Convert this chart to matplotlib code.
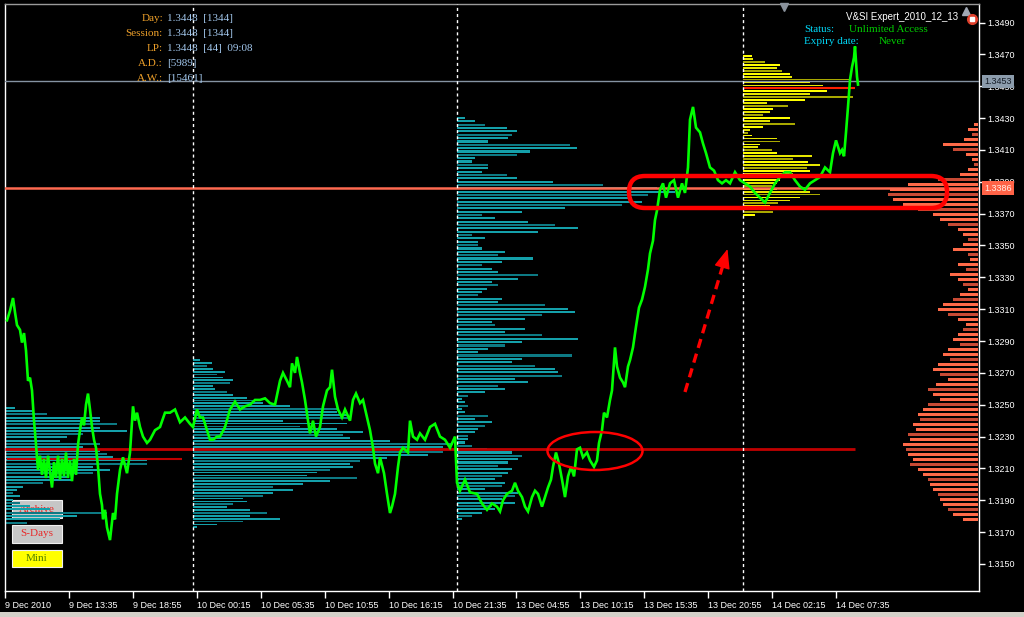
import numpy as np
import matplotlib
matplotlib.use("Agg")
import matplotlib.pyplot as plt
from matplotlib.patches import Ellipse, FancyBboxPatch, Rectangle
from matplotlib.transforms import blended_transform_factory

plt.rcParams['font.family'] = ['Liberation Sans', 'DejaVu Sans']

# ---------------- data (bar index, close price) ----------------
dec9_bars = [7, 10, 13, 15, 17, 20, 22, 24, 26, 28, 30, 32, 34, 36, 38, 40, 42, 44, 46, 48,
             50, 52, 54, 56, 58, 60, 62, 64, 66, 68, 70, 72, 74, 76, 78, 80, 82, 84, 86, 88,
             90, 92, 94, 96, 98, 100, 102, 103, 105, 107, 110, 113, 115, 117, 120, 123, 125, 127, 130, 133,
             135, 137, 140, 143, 147, 150, 155, 160, 165, 170, 175, 180, 185, 190, 193]
dec9_close = [1.3303, 1.3309, 1.3317, 1.3308, 1.3300, 1.3297, 1.3289, 1.3295, 1.3284, 1.3265,
              1.3267, 1.3259, 1.3240, 1.3225, 1.3209, 1.3218, 1.3206, 1.3216, 1.3204, 1.3218,
              1.3208, 1.3198, 1.3214, 1.3204, 1.3218, 1.3203, 1.3216, 1.3205, 1.3220, 1.3204,
              1.3215, 1.3202, 1.3216, 1.3206, 1.3225, 1.3234, 1.3242, 1.3237, 1.3250, 1.3257,
              1.3247, 1.3236, 1.3228, 1.3223, 1.3211, 1.3194, 1.3187, 1.3178, 1.3184, 1.3173,
              1.3165, 1.3182, 1.3178, 1.3194, 1.3209, 1.3217, 1.3212, 1.3207, 1.3220, 1.3249,
              1.3240, 1.3245, 1.3236, 1.3230, 1.3226, 1.3228, 1.3234, 1.3236, 1.3245, 1.3245,
              1.3247, 1.3239, 1.3242, 1.3238, 1.3236]

dec10_bars = [197, 200, 203, 207, 210, 213, 217, 220, 225, 230, 235, 240, 245, 250, 255, 260, 265, 270, 275, 278,
              280, 283, 287, 290, 292, 295, 297, 300, 302, 305, 308, 310, 313, 316, 320, 323, 327, 330, 332, 335,
              338, 342, 345, 350, 353, 356, 360, 363, 367, 370, 373, 375, 378, 380, 384, 387, 390, 392, 395, 398,
              400, 403, 408, 410, 413, 417, 420, 425, 430, 435, 440, 445, 450, 455]
dec10_close = [1.3247, 1.3242, 1.3242, 1.3234, 1.3228, 1.3228, 1.3230, 1.3230, 1.3236, 1.3247,
               1.3252, 1.3247, 1.3249, 1.3250, 1.3253, 1.3253, 1.3254, 1.3251, 1.3250, 1.3259,
               1.3265, 1.3270, 1.3265, 1.3261, 1.3276, 1.3270, 1.3280, 1.3270, 1.3264, 1.3253,
               1.3240, 1.3232, 1.3240, 1.3230, 1.3236, 1.3249, 1.3259, 1.3261, 1.3272, 1.3255,
               1.3247, 1.3242, 1.3247, 1.3240, 1.3253, 1.3257, 1.3251, 1.3253, 1.3242, 1.3234,
               1.3223, 1.3213, 1.3207, 1.3217, 1.3207, 1.3194, 1.3182, 1.3186, 1.3194, 1.3211,
               1.3220, 1.3223, 1.3220, 1.3240, 1.3230, 1.3228, 1.3232, 1.3228, 1.3236, 1.3238,
               1.3230, 1.3228, 1.3223, 1.3230]

dec13_bars = [457, 460, 465, 470, 477, 482, 487, 492, 497, 500, 503, 507, 512, 515, 518, 522, 525, 528, 532, 535,
              538, 542, 545, 548, 551, 553, 556, 559, 562, 565, 568, 571, 574, 577, 580, 583, 587, 590, 594, 597,
              599, 602, 604, 607, 610, 612, 615, 617, 620, 623, 625, 628, 630, 633, 636, 639, 642, 645, 648, 650,
              653, 655, 657, 660, 663, 666, 670, 674, 678, 682, 685, 688, 690, 693, 696, 700, 703, 706, 710, 714,
              718, 722, 726, 730, 735, 740]
dec13_close = [1.3201, 1.3196, 1.3203, 1.3195, 1.3194, 1.3188, 1.3184, 1.3188, 1.3186, 1.3183,
               1.3190, 1.3194, 1.3196, 1.3201, 1.3196, 1.3192, 1.3186, 1.3183, 1.3192, 1.3196,
               1.3194, 1.3186, 1.3192, 1.3198, 1.3203, 1.3211, 1.3220, 1.3213, 1.3203, 1.3192,
               1.3205, 1.3211, 1.3205, 1.3222, 1.3223, 1.3217, 1.3220, 1.3215, 1.3211, 1.3215,
               1.3226, 1.3234, 1.3245, 1.3242, 1.3253, 1.3259, 1.3286, 1.3274, 1.3267, 1.3264,
               1.3261, 1.3274, 1.3278, 1.3286, 1.3299, 1.3311, 1.3316, 1.3324, 1.3335, 1.3345,
               1.3353, 1.3366, 1.3372, 1.3385, 1.3389, 1.3380, 1.3389, 1.3391, 1.3380, 1.3389,
               1.3383, 1.3399, 1.3429, 1.3437, 1.3424, 1.3421, 1.3414, 1.3408, 1.3399, 1.3397,
               1.3391, 1.3389, 1.3391, 1.3389, 1.3396, 1.3391]

dec14_bars = [745, 750, 755, 760, 765, 770, 775, 780, 785, 790, 795, 800, 805, 810, 815, 820, 825, 830, 833, 836,
              838, 840, 842, 844, 846, 848, 850, 852, 854, 855, 857, 858]
dec14_close = [1.3389, 1.3387, 1.3383, 1.3380, 1.3377, 1.3383, 1.3389, 1.3393, 1.3396, 1.3396,
               1.3391, 1.3387, 1.3385, 1.3389, 1.3391, 1.3393, 1.3399, 1.3396, 1.3408, 1.3416,
               1.3412, 1.3408, 1.3410, 1.3406, 1.3421, 1.3437, 1.3454, 1.3462, 1.3468, 1.3475,
               1.3456, 1.3451]

# ---------------- volume profiles (volume per price row, top -> bottom) ----------------
prof9_vol = [10, 28, 42, 95, 95, 112, 95, 122, 78, 62, 55, 95, 78, 95, 102, 108, 142, 142, 88, 105,
             88, 62, 68, 38, 18, 12, 8, 15, 8, 15, 25, 45, 102, 72, 55, 22]
prof9_range = (1.3248, 1.3176)

prof10_vol = [7, 19, 14, 20, 32, 24, 30, 40, 37, 20, 22, 34, 40, 54, 64, 70, 97, 144, 144, 154,
              157, 90, 154, 107, 144, 170, 150, 157, 197, 260, 250, 244, 250, 235, 194, 167, 157, 160, 137, 124,
              114, 164, 137, 110, 80, 100, 80, 70, 50, 54, 40, 34, 57, 74, 57, 87, 50, 24, 4]
prof10_range = (1.3278, 1.3173)

prof13_vol = [8, 18, 28, 50, 60, 55, 51, 31, 113, 120, 73, 60, 18, 15, 31, 31, 25, 50, 60, 96,
              146, 200, 218, 191, 175, 185, 165, 108, 65, 25, 38, 71, 98, 121, 81, 15, 28, 21, 21, 25,
              48, 41, 76, 45, 25, 35, 41, 81, 61, 35, 41, 30, 25, 21, 45, 41, 88, 111, 118, 85,
              68, 35, 38, 68, 48, 85, 121, 65, 48, 31, 21, 115, 65, 55, 78, 98, 101, 105, 58, 71,
              41, 48, 28, 11, 5, 8, 11, 5, 8, 31, 18, 35, 28, 21, 18, 11, 11, 8, 15, 30,
              55, 65, 61, 51, 41, 55, 51, 45, 38, 48, 45, 28, 61, 58, 45, 58, 35, 38, 25, 15, 5]
prof13_range = (1.3430, 1.3178)

prof14_vol = [9, 10, 22, 37, 34, 39, 47, 49, 107, 67, 80, 107, 84, 67, 110, 62, 24, 45, 30, 27,
              20, 47, 27, 52, 20, 7, 5, 9, 34, 37, 17, 15, 29, 34, 69, 50, 65, 77, 64, 67,
              50, 44, 37, 34, 29, 34, 67, 77, 57, 47, 35, 27, 24, 30, 12]
prof14_range = (1.3469, 1.3369)

profall_vol = [4, 10, 6, 14, 35, 25, 12, 6, 4, 10, 18, 40, 70, 88, 90, 85, 75, 60, 45, 38,
               30, 20, 15, 10, 15, 25, 10, 8, 20, 12, 28, 20, 15, 10, 18, 25, 35, 40, 30, 20,
               12, 15, 20, 25, 18, 30, 35, 28, 40, 45, 38, 30, 42, 50, 45, 38, 50, 55, 60, 58,
               65, 62, 70, 68, 75, 72, 70, 65, 68, 60, 55, 50, 48, 45, 40, 38, 35, 30, 25, 15]
profall_range = (1.3426, 1.3178)

# ---------------- levels / axis labels ----------------
day_separators = [193, 457, 743]
last_price = 1.3453
poc_total = 1.3386
poc_dec10 = 1.3222
poc_dec9 = 1.3216
poc_dec14 = 1.3449
ytick_vals = [1.3150, 1.3170, 1.3190, 1.3210, 1.3230, 1.3250, 1.3270, 1.3290, 1.3310, 1.3330,
              1.3350, 1.3370, 1.3390, 1.3410, 1.3430, 1.3450, 1.3470, 1.3490]
xtick_bars = [5, 69, 133, 197, 261, 325, 389, 453, 516, 580, 644, 708, 772, 836]
xtick_labels = ['9 Dec 2010', '9 Dec 13:35', '9 Dec 18:55', '10 Dec 00:15', '10 Dec 05:35',
                '10 Dec 10:55', '10 Dec 16:15', '10 Dec 21:35', '13 Dec 04:55', '13 Dec 10:15',
                '13 Dec 15:35', '13 Dec 20:55', '14 Dec 02:15', '14 Dec 07:35']

# ---------------- figure ----------------
W, H = 1024, 617
fig = plt.figure(figsize=(W / 100, H / 100), dpi=100, facecolor='black')
L, R, T, B = 5, 979, 4, 591
ax = fig.add_axes([L / W, (H - B) / H, (R - L) / W, (B - T) / H])
ax.set_facecolor('black')

PX_PER_PRICE = 15926.0


def price_at(py):
    return 1.3490 - (py - 22.5) / PX_PER_PRICE


def fx(px):
    return px / W


def fy(py):
    return 1 - py / H


ax.set_xlim(L, R)
ax.set_ylim(price_at(B), price_at(T))


def draw_profile(vols, prange, anchor, colors, direction=1, zorder=2):
    levels = np.linspace(prange[0], prange[1], len(vols))
    step = abs(prange[0] - prange[1]) / (len(vols) - 1)
    cols = [colors[i % len(colors)] for i in range(len(vols))]
    ax.barh(levels, np.asarray(vols) * direction, left=anchor, height=step * 0.62,
            color=cols, linewidth=0, zorder=zorder)


teal = ['#14a0aa', '#14a0aa', '#0d7a84']
draw_profile(prof9_vol, prof9_range, 5, teal)
draw_profile(prof10_vol, prof10_range, 193, teal)
draw_profile(prof13_vol, prof13_range, 457, teal)
draw_profile(prof14_vol, prof14_range, 743, ['#ffff00', '#e6e600', '#a8a800'])
draw_profile(profall_vol, profall_range, 978, ['#ff6a48', '#ff6a48', '#c84a34'], direction=-1)

# level lines
ax.axhline(last_price, color='#8593a2', lw=1, zorder=3)
ax.axhline(poc_total, color='#ff6a50', lw=1.8, zorder=3)
ax.hlines(poc_dec10, 5, 855, color='#c00000', lw=2, zorder=3)
ax.hlines(poc_dec9, 7, 182, color='#c00000', lw=1.5, zorder=3)
ax.hlines(poc_dec14, 743, 855, color='#ff2000', lw=1.5, zorder=3)

# day separators
for xs in day_separators:
    ax.axvline(xs, color='white', lw=1, ls=(0, (2.2, 2.2)), zorder=4)

# price line
bars = dec9_bars + dec10_bars + dec13_bars + dec14_bars
closes = dec9_close + dec10_close + dec13_close + dec14_close
ax.plot(bars, closes, color='#00ff00', lw=1.9, zorder=5, solid_joinstyle='miter')

# annotations: stadium, ellipse, arrow
hl_lo, hl_hi = price_at(208), price_at(176)
stad = FancyBboxPatch((629, hl_lo), 318, hl_hi - hl_lo,
                      boxstyle='round,pad=0,rounding_size=16',
                      mutation_aspect=1 / PX_PER_PRICE, fill=False,
                      ec='#ff0000', lw=3.2, zorder=7)
ax.add_patch(stad)
ax.add_patch(Ellipse((595, price_at(451)), 95, 38 / PX_PER_PRICE, fill=False,
                     ec='#ff0000', lw=1.8, zorder=7))
ax.plot([685, 723], [price_at(392), price_at(265)], color='#ff0000', lw=2.4,
        ls=(0, (2.8, 1.8)), zorder=7)
ax.annotate('', xy=(727.5, price_at(249)), xytext=(722.5, price_at(266)),
            arrowprops=dict(arrowstyle='-|>,head_length=1.1,head_width=0.45',
                            color='#ff0000', lw=1, mutation_scale=11,
                            shrinkA=0, shrinkB=0), zorder=7)

# axes styling
for sp in ax.spines.values():
    sp.set_color('white')
    sp.set_linewidth(1)
ax.spines['top'].set_color('#9a9a9a')
ax.yaxis.tick_right()
ax.set_yticks(ytick_vals)
ax.set_yticklabels([f'{v:.4f}' for v in ytick_vals])
ax.tick_params(axis='y', colors='white', length=4, width=1, pad=2, labelsize=6.5)
ax.set_xticks(xtick_bars)
ax.set_xticklabels(xtick_labels, ha='left')
ax.tick_params(axis='x', colors='white', length=5, width=1, pad=2, labelsize=6.5)

# price boxes on the right scale (they cover the nearby scale labels, as in the terminal)
btr = blended_transform_factory(ax.transAxes, ax.transData)
ax.text(1 + 5 / 974, last_price, f'{last_price:.4f}', transform=btr, ha='left', va='center',
        fontsize=6.5, color='#141c26', clip_on=False, zorder=10,
        bbox=dict(boxstyle='square,pad=0.25', fc='#8c9cac', ec='none'))
ax.text(1 + 5 / 974, poc_total, f'{poc_total:.4f}', transform=btr, ha='left', va='center',
        fontsize=6.5, color='#fff0e8', clip_on=False, zorder=10,
        bbox=dict(boxstyle='square,pad=0.25', fc='#ff6347', ec='none'))

# buttons (under the profiles)
def button(y0, y1, text, fc, tc):
    ax.add_patch(Rectangle((fx(12), fy(y1)), fx(62) - fx(12), fy(y0) - fy(y1),
                           transform=fig.transFigure, fc=fc, ec='#f0f0f0', lw=0.8,
                           zorder=1, clip_on=False))
    ax.text(fx(37), fy((y0 + y1) / 2), text, transform=fig.transFigure, ha='center',
            va='center', color=tc, fontsize=8, family='Liberation Serif', zorder=1.5)


button(500, 518, 'Archive', '#c6c6c6', '#e82828')
button(525, 543, 'S-Days', '#c6c6c6', '#e82828')
button(550, 567, 'Mini', '#ffff00', '#4f7f00')

# info text (top-left)
lab_c, val_c = '#eea02a', '#a3c8ee'
info_rows = [('Day:', '1.3448  [1344]'), ('Session:', '1.3448  [1344]'),
             ('LP:', '1.3448  [44]  09:08'), ('A.D.:', '[5989]'), ('A.W.:', '[15461]')]
for i, (lab, val) in enumerate(info_rows):
    yy = 18.5 + 15 * i
    fig.text(fx(163), fy(yy), lab, ha='right', va='center', color=lab_c,
             fontsize=8, family='Liberation Serif')
    fig.text(fx(167), fy(yy), val, ha='left', va='center', color=val_c,
             fontsize=8, family='Liberation Serif')

# top-right text
fig.text(fx(958), fy(17), 'V&SI Expert_2010_12_13', ha='right', va='center', color='white',
         fontsize=7)
fig.text(fx(804), fy(29), 'Status:', ha='left', va='center', color='#00d8f8',
         fontsize=8, family='Liberation Serif')
fig.text(fx(849), fy(29), 'Unlimited Access', ha='left', va='center', color='#00cc00',
         fontsize=8, family='Liberation Serif')
fig.text(fx(804), fy(41), 'Expiry date:', ha='left', va='center', color='#00d8f8',
         fontsize=8, family='Liberation Serif')
fig.text(fx(879), fy(41), 'Never', ha='left', va='center', color='#00cc00',
         fontsize=8, family='Liberation Serif')

# small icons
ax.plot([966], [price_at(11)], marker='^', ms=6, color='#a0a8b4', zorder=9, clip_on=False)
ax.plot([972], [price_at(19)], marker='o', ms=7, color='#e0402c', zorder=9, clip_on=False)
ax.plot([972], [price_at(19)], marker='s', ms=2.6, color='white', zorder=10, clip_on=False)
ax.plot([784], [price_at(7)], marker='v', ms=6, color='#8a929c', zorder=9, clip_on=False)

# bottom window strip
fig.add_artist(Rectangle((0, 0), 1, 5 / H, transform=fig.transFigure, fc='#d4d0c8', ec='none'))

fig.savefig('out.png', dpi=100, facecolor='black')
